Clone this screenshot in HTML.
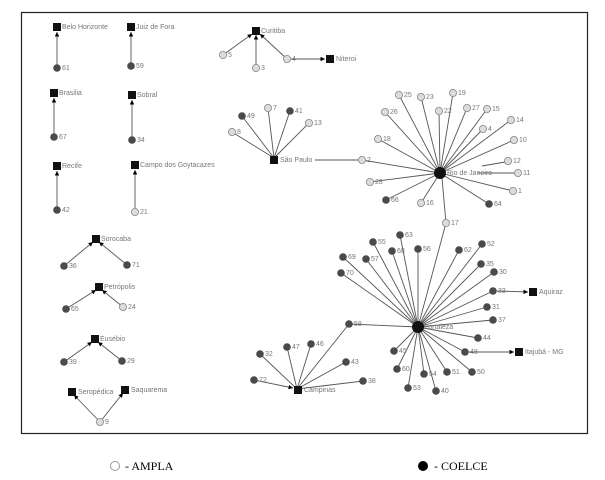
<!DOCTYPE html>
<html><head><meta charset="utf-8"><style>
html,body{margin:0;padding:0;background:#fff;width:605px;height:480px;overflow:hidden}
svg{display:block}
text{font-family:"Liberation Sans",sans-serif;font-size:7px;fill:#777}
.l{stroke:#555;stroke-width:0.9}
.d{fill:#4a4a4a}
.w{fill:#dcdcdc;stroke:#888;stroke-width:0.8}
.lg{font-family:"Liberation Serif",serif;font-size:12px;fill:#000}
</style></head><body>
<svg width="605" height="480" viewBox="0 0 605 480" xmlns="http://www.w3.org/2000/svg">
<defs><marker id="a" viewBox="0 0 6 6" refX="6" refY="3" markerWidth="5" markerHeight="5" orient="auto"><path d="M0,0L6,3L0,6z" fill="#000"/></marker></defs>
<rect x="21.5" y="12.5" width="566" height="421" fill="#fff" stroke="#222" stroke-width="1.2"/>
<g class="l">
<line x1="57" y1="68" x2="57" y2="32" marker-end="url(#a)"/>
<line x1="131" y1="66" x2="131" y2="32" marker-end="url(#a)"/>
<line x1="54" y1="137" x2="54" y2="98" marker-end="url(#a)"/>
<line x1="132" y1="140" x2="132" y2="100" marker-end="url(#a)"/>
<line x1="57" y1="210" x2="57" y2="171" marker-end="url(#a)"/>
<line x1="135" y1="212" x2="135" y2="170" marker-end="url(#a)"/>
<line x1="223" y1="55" x2="252" y2="34" marker-end="url(#a)"/>
<line x1="256" y1="68" x2="256" y2="35" marker-end="url(#a)"/>
<line x1="287" y1="59" x2="260" y2="34" marker-end="url(#a)"/>
<line x1="291" y1="59" x2="325" y2="59" marker-end="url(#a)"/>
<line x1="64" y1="266" x2="93" y2="242" marker-end="url(#a)"/>
<line x1="127" y1="265" x2="99" y2="242" marker-end="url(#a)"/>
<line x1="66" y1="309" x2="96" y2="290" marker-end="url(#a)"/>
<line x1="123" y1="307" x2="102" y2="290" marker-end="url(#a)"/>
<line x1="64" y1="362" x2="92" y2="342" marker-end="url(#a)"/>
<line x1="122" y1="361" x2="98" y2="342" marker-end="url(#a)"/>
<line x1="100" y1="422" x2="74" y2="395" marker-end="url(#a)"/>
<line x1="100" y1="422" x2="123" y2="393" marker-end="url(#a)"/>
<!-- Sao Paulo -->
<line x1="242" y1="116" x2="274" y2="158"/><line x1="268" y1="108" x2="274" y2="158"/>
<line x1="290" y1="111" x2="274" y2="158"/><line x1="309" y1="123" x2="274" y2="158"/>
<line x1="232" y1="132" x2="274" y2="158"/><line x1="315" y1="160" x2="362" y2="160"/>
<!-- Rio -->
<g>
<line x1="399" y1="95" x2="440" y2="173"/><line x1="421" y1="97" x2="440" y2="173"/>
<line x1="453" y1="93" x2="440" y2="173"/><line x1="439" y1="111" x2="440" y2="173"/>
<line x1="467" y1="108" x2="440" y2="173"/><line x1="487" y1="109" x2="440" y2="173"/>
<line x1="385" y1="112" x2="440" y2="173"/><line x1="483" y1="129" x2="440" y2="173"/>
<line x1="511" y1="120" x2="440" y2="173"/><line x1="514" y1="140" x2="440" y2="173"/>
<line x1="378" y1="139" x2="440" y2="173"/><line x1="482" y1="166" x2="505" y2="162"/>
<line x1="478" y1="173" x2="515" y2="173"/><line x1="370" y1="182" x2="440" y2="173"/>
<line x1="513" y1="191" x2="440" y2="173"/><line x1="386" y1="200" x2="440" y2="173"/>
<line x1="421" y1="203" x2="440" y2="173"/><line x1="489" y1="204" x2="440" y2="173"/>
<line x1="362" y1="160" x2="440" y2="173"/><line x1="446" y1="223" x2="442" y2="178"/>
<line x1="446" y1="223" x2="418" y2="327"/>
</g>
<!-- Fortaleza -->
<g>
<line x1="400" y1="235" x2="418" y2="327"/><line x1="373" y1="242" x2="418" y2="327"/>
<line x1="392" y1="251" x2="418" y2="327"/><line x1="418" y1="249" x2="418" y2="327"/>
<line x1="459" y1="250" x2="418" y2="327"/><line x1="482" y1="244" x2="418" y2="327"/>
<line x1="343" y1="257" x2="418" y2="327"/><line x1="366" y1="259" x2="418" y2="327"/>
<line x1="341" y1="273" x2="418" y2="327"/><line x1="481" y1="264" x2="418" y2="327"/>
<line x1="494" y1="272" x2="418" y2="327"/><line x1="493" y1="291" x2="418" y2="327"/>
<line x1="487" y1="307" x2="418" y2="327"/><line x1="493" y1="320" x2="418" y2="327"/>
<line x1="349" y1="324" x2="418" y2="327"/><line x1="478" y1="338" x2="418" y2="327"/>
<line x1="394" y1="351" x2="418" y2="327"/><line x1="465" y1="352" x2="418" y2="327"/>
<line x1="397" y1="369" x2="418" y2="327"/><line x1="424" y1="374" x2="418" y2="327"/>
<line x1="447" y1="372" x2="418" y2="327"/><line x1="472" y1="372" x2="418" y2="327"/>
<line x1="408" y1="388" x2="418" y2="327"/><line x1="436" y1="391" x2="418" y2="327"/>
<line x1="497" y1="291" x2="528" y2="292" marker-end="url(#a)"/>
<line x1="469" y1="352" x2="514" y2="352" marker-end="url(#a)"/>
</g>
<!-- Campinas -->
<line x1="260" y1="354" x2="297" y2="389"/><line x1="287" y1="347" x2="297" y2="389"/>
<line x1="311" y1="344" x2="297" y2="389"/><line x1="346" y1="362" x2="297" y2="389"/>
<line x1="254" y1="380" x2="293" y2="388" marker-end="url(#a)"/><line x1="363" y1="381" x2="297" y2="389"/>
<line x1="349" y1="324" x2="297" y2="389"/>
</g>
<!-- squares -->
<g fill="#111">
<rect x="53" y="23" width="8" height="8"/><rect x="127" y="23" width="8" height="8"/>
<rect x="50" y="89" width="8" height="8"/><rect x="128" y="91" width="8" height="8"/>
<rect x="53" y="162" width="8" height="8"/><rect x="131" y="161" width="8" height="8"/>
<rect x="252" y="27" width="8" height="8"/><rect x="326" y="55" width="8" height="8"/>
<rect x="270" y="156" width="8" height="8"/>
<rect x="92" y="235" width="8" height="8"/><rect x="95" y="283" width="8" height="8"/>
<rect x="91" y="335" width="8" height="8"/><rect x="68" y="388" width="8" height="8"/>
<rect x="121" y="386" width="8" height="8"/>
<rect x="529" y="288" width="8" height="8"/><rect x="515" y="348" width="8" height="8"/>
<rect x="294" y="386" width="8" height="8"/>
<circle cx="440" cy="173" r="6"/><circle cx="418" cy="327" r="6"/>
</g>
<!-- dark nodes -->
<g class="d">
<circle cx="57" cy="68" r="3.8"/><circle cx="131" cy="66" r="3.8"/><circle cx="54" cy="137" r="3.8"/>
<circle cx="132" cy="140" r="3.8"/><circle cx="57" cy="210" r="3.8"/>
<circle cx="64" cy="266" r="3.8"/><circle cx="127" cy="265" r="3.8"/><circle cx="66" cy="309" r="3.8"/>
<circle cx="64" cy="362" r="3.8"/><circle cx="122" cy="361" r="3.8"/>
<circle cx="242" cy="116" r="3.8"/><circle cx="290" cy="111" r="3.8"/>
<circle cx="386" cy="200" r="3.8"/><circle cx="489" cy="204" r="3.8"/>
<circle cx="400" cy="235" r="3.8"/><circle cx="373" cy="242" r="3.8"/><circle cx="392" cy="251" r="3.8"/>
<circle cx="418" cy="249" r="3.8"/><circle cx="459" cy="250" r="3.8"/><circle cx="482" cy="244" r="3.8"/>
<circle cx="343" cy="257" r="3.8"/><circle cx="366" cy="259" r="3.8"/><circle cx="341" cy="273" r="3.8"/>
<circle cx="481" cy="264" r="3.8"/><circle cx="494" cy="272" r="3.8"/><circle cx="493" cy="291" r="3.8"/>
<circle cx="487" cy="307" r="3.8"/><circle cx="493" cy="320" r="3.8"/><circle cx="349" cy="324" r="3.8"/>
<circle cx="478" cy="338" r="3.8"/><circle cx="394" cy="351" r="3.8"/><circle cx="465" cy="352" r="3.8"/>
<circle cx="397" cy="369" r="3.8"/><circle cx="424" cy="374" r="3.8"/><circle cx="447" cy="372" r="3.8"/>
<circle cx="472" cy="372" r="3.8"/><circle cx="408" cy="388" r="3.8"/><circle cx="436" cy="391" r="3.8"/>
<circle cx="260" cy="354" r="3.8"/><circle cx="287" cy="347" r="3.8"/><circle cx="311" cy="344" r="3.8"/>
<circle cx="346" cy="362" r="3.8"/><circle cx="254" cy="380" r="3.8"/><circle cx="363" cy="381" r="3.8"/>
</g>
<!-- light nodes -->
<g class="w">
<circle cx="135" cy="212" r="3.6"/><circle cx="223" cy="55" r="3.6"/><circle cx="256" cy="68" r="3.6"/>
<circle cx="287" cy="59" r="3.6"/><circle cx="123" cy="307" r="3.6"/><circle cx="100" cy="422" r="3.6"/>
<circle cx="268" cy="108" r="3.6"/><circle cx="309" cy="123" r="3.6"/><circle cx="232" cy="132" r="3.6"/>
<circle cx="362" cy="160" r="3.6"/>
<circle cx="399" cy="95" r="3.6"/><circle cx="421" cy="97" r="3.6"/><circle cx="453" cy="93" r="3.6"/>
<circle cx="439" cy="111" r="3.6"/><circle cx="467" cy="108" r="3.6"/><circle cx="487" cy="109" r="3.6"/>
<circle cx="385" cy="112" r="3.6"/><circle cx="483" cy="129" r="3.6"/><circle cx="511" cy="120" r="3.6"/>
<circle cx="514" cy="140" r="3.6"/><circle cx="378" cy="139" r="3.6"/><circle cx="508" cy="161" r="3.6"/>
<circle cx="518" cy="173" r="3.6"/><circle cx="370" cy="182" r="3.6"/><circle cx="513" cy="191" r="3.6"/>
<circle cx="421" cy="203" r="3.6"/><circle cx="446" cy="223" r="3.6"/>
</g>
<!-- labels -->
<g>
<text x="62" y="29">Belo Horizonte</text><text x="136" y="29">Juiz de Fora</text>
<text x="59" y="95">Brasilia</text><text x="137" y="97">Sobral</text>
<text x="62" y="168">Recife</text><text x="140" y="167">Campo dos Goytacazes</text>
<text x="62" y="70">61</text><text x="136" y="68">59</text><text x="59" y="139">67</text>
<text x="137" y="142">34</text><text x="62" y="212">42</text><text x="140" y="214">21</text>
<text x="261" y="33">Curitiba</text><text x="336" y="61">Niteroi</text>
<text x="228" y="57">5</text><text x="261" y="70">3</text><text x="292" y="61">4</text>
<text x="280" y="162">São Paulo</text>
<text x="247" y="118">49</text><text x="273" y="110">7</text><text x="295" y="113">41</text>
<text x="314" y="125">13</text><text x="237" y="134">8</text><text x="367" y="162">2</text>
<text x="447" y="175">Rio de Janeiro</text>
<text x="404" y="97">25</text><text x="426" y="99">23</text><text x="458" y="95">19</text>
<text x="444" y="113">22</text><text x="472" y="110">27</text><text x="492" y="111">15</text>
<text x="390" y="114">26</text><text x="488" y="131">4</text><text x="516" y="122">14</text>
<text x="519" y="142">10</text><text x="383" y="141">18</text><text x="513" y="163">12</text>
<text x="523" y="175">11</text><text x="375" y="184">28</text><text x="518" y="193">1</text>
<text x="391" y="202">66</text><text x="426" y="205">16</text><text x="494" y="206">64</text>
<text x="451" y="225">17</text>
<text x="424" y="329">Fortaleza</text>
<text x="405" y="237">63</text><text x="378" y="244">55</text><text x="397" y="253">68</text>
<text x="423" y="251">56</text><text x="464" y="252">62</text><text x="487" y="246">52</text>
<text x="348" y="259">69</text><text x="371" y="261">57</text><text x="346" y="275">70</text>
<text x="486" y="266">35</text><text x="499" y="274">30</text><text x="498" y="293">33</text>
<text x="539" y="294">Aquiraz</text><text x="492" y="309">31</text><text x="498" y="322">37</text>
<text x="354" y="326">58</text><text x="483" y="340">44</text><text x="399" y="353">45</text>
<text x="470" y="354">48</text><text x="525" y="354">Itajubá - MG</text>
<text x="402" y="371">60</text><text x="429" y="376">54</text><text x="452" y="374">51</text>
<text x="477" y="374">50</text><text x="413" y="390">53</text><text x="441" y="393">40</text>
<text x="304" y="392">Campinas</text>
<text x="265" y="356">32</text><text x="292" y="349">47</text><text x="316" y="346">46</text>
<text x="351" y="364">43</text><text x="259" y="382">72</text><text x="368" y="383">38</text>
<text x="101" y="241">Sorocaba</text><text x="69" y="268">36</text><text x="132" y="267">71</text>
<text x="104" y="289">Petrópolis</text><text x="71" y="311">65</text><text x="128" y="309">24</text>
<text x="100" y="341">Eusébio</text><text x="69" y="364">39</text><text x="127" y="363">29</text>
<text x="78" y="394">Seropédica</text><text x="131" y="392">Saquarema</text><text x="105" y="424">9</text>
</g>
<circle cx="115" cy="466" r="4.5" fill="#fff" stroke="#999" stroke-width="1"/>
<text class="lg" x="125" y="470">- AMPLA</text>
<circle cx="423" cy="466" r="5" fill="#000"/>
<text class="lg" x="434" y="470">- COELCE</text>
</svg>
</body></html>
